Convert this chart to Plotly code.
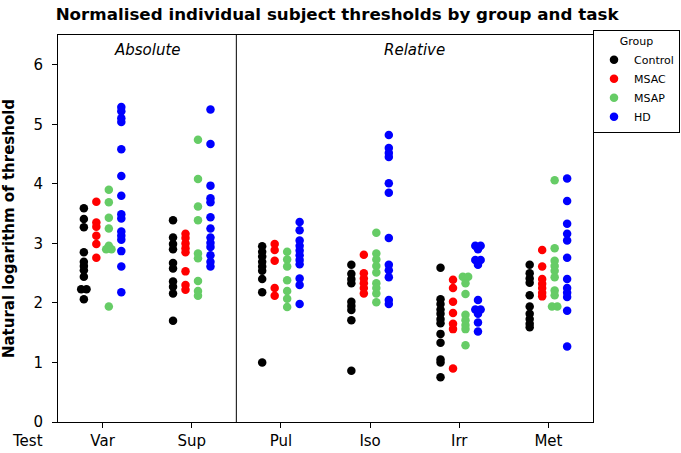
import plotly.graph_objects as go

# -----------------------------
# DATA
# -----------------------------
tests = ["Var", "Sup", "Pul", "Iso", "Irr", "Met"]
groups = ["Control", "MSAC", "MSAP", "HD"]
colors = {"Control": "#000000", "MSAC": "#ff0000", "MSAP": "#66cc66", "HD": "#0000ff"}

control = {
    "Var": [3.59, 3.41, 3.27, 2.85, 2.69, 2.62, 2.55, 2.44, 2.23, 2.23, 2.06],
    "Sup": [3.39, 3.10, 2.99, 2.90, 2.67, 2.58, 2.36, 2.27, 2.16, 1.70],
    "Pul": [2.95, 2.86, 2.78, 2.69, 2.61, 2.54, 2.40, 2.18, 1.00],
    "Iso": [2.64, 2.49, 2.40, 2.33, 2.02, 1.95, 1.88, 1.71, 0.86],
    "Irr": [2.59, 2.06, 1.98, 1.89, 1.82, 1.73, 1.66, 1.48, 1.33, 1.05, 1.00, 0.75],
    "Met": [2.64, 2.50, 2.41, 2.34, 2.13, 1.94, 1.82, 1.73, 1.65, 1.59],
}
msac = {
    "Var": [3.70, 3.35, 3.28, 3.13, 2.99, 2.76],
    "Sup": [3.16, 3.09, 3.00, 2.92, 2.85, 2.53, 2.30, 2.22],
    "Pul": [2.99, 2.89, 2.71, 2.25, 2.12],
    "Iso": [2.81, 2.50, 2.41, 2.33, 2.25, 2.16],
    "Irr": [2.39, 2.25, 2.02, 1.83, 1.65, 1.56, 0.90],
    "Met": [2.89, 2.61, 2.40, 2.32, 2.25, 2.17, 2.11],
}
msap = {
    "Var": [3.90, 3.69, 3.43, 3.25, 2.96, 2.90, 2.90, 1.94],
    "Sup": [4.74, 4.08, 3.62, 3.39, 2.83, 2.75, 2.37, 2.20, 2.12],
    "Pul": [2.86, 2.73, 2.61, 2.38, 2.20, 2.07, 1.93],
    "Iso": [3.18, 2.83, 2.73, 2.62, 2.51, 2.33, 2.25, 2.16, 2.01],
    "Irr": [2.44, 2.44, 2.33, 2.15, 1.80, 1.71, 1.63, 1.56, 1.29],
    "Met": [4.06, 2.92, 2.71, 2.62, 2.54, 2.43, 2.21, 2.13, 1.94, 1.94],
}
hd = {
    "Var": [5.29, 5.22, 5.10, 5.04, 4.58, 4.13, 3.80, 3.49, 3.42, 3.20, 3.13, 3.06, 2.87, 2.61, 2.18],
    "Sup": [5.25, 4.67, 3.97, 3.76, 3.69, 3.44, 3.25, 3.10, 3.01, 2.94, 2.80, 2.69, 2.61],
    "Pul": [3.36, 3.22, 3.05, 2.96, 2.88, 2.80, 2.72, 2.65, 2.41, 2.30, 1.98],
    "Iso": [4.82, 4.60, 4.52, 4.45, 4.01, 3.85, 3.09, 2.64, 2.55, 2.43, 2.05, 1.98],
    "Irr": [2.96, 2.96, 2.90, 2.72, 2.72, 2.64, 2.05, 1.89, 1.89, 1.82, 1.67, 1.52],
    "Met": [4.09, 3.71, 3.33, 3.16, 3.05, 2.76, 2.40, 2.25, 2.17, 2.10, 1.87, 1.27],
}
group_data = {"Control": control, "MSAC": msac, "MSAP": msap, "HD": hd}
offsets = {"Control": -0.21, "MSAC": -0.07, "MSAP": 0.07, "HD": 0.21}

fig = go.Figure()

for g in groups:
    xs, ys = [], []
    for i, t in enumerate(tests):
        vals = group_data[g][t]
        for j, v in enumerate(vals):
            # spread duplicates side by side
            n = vals.count(v)
            k = vals[:j].count(v)
            shift = (k - (n - 1) / 2) * 0.06
            xs.append(i + offsets[g] + shift)
            ys.append(v)
    fig.add_trace(go.Scatter(
        x=xs, y=ys, mode="markers", name=g,
        marker=dict(color=colors[g], size=8.5, line=dict(width=0)),
    ))

# divider between absolute and relative tests
fig.add_shape(type="line", x0=1.5, x1=1.5, y0=0, y1=6.5, xref="x", yref="y",
              line=dict(color="black", width=1))

fig.add_annotation(x=0.5, y=6.25, text="<i>Absolute</i>", showarrow=False,
                   font=dict(size=15, color="black"))
fig.add_annotation(x=3.5, y=6.25, text="<i>Relative</i>", showarrow=False,
                   font=dict(size=15, color="black"))
fig.add_annotation(x=-0.09, y=-0.02, xref="paper", yref="paper", text="Test",
                   showarrow=False, xanchor="left", yanchor="top",
                   font=dict(size=15, color="black"))

fig.update_layout(
    width=681, height=453,
    plot_bgcolor="white", paper_bgcolor="white",
    font=dict(family="DejaVu Sans", size=15, color="black"),
    title=dict(text="<b>Normalised individual subject thresholds by group and task</b>",
               x=0.495, xanchor="center", y=0.982, yanchor="top",
               font=dict(size=16.7)),
    margin=dict(l=58, r=88, t=35, b=31, autoexpand=False),
    xaxis=dict(range=[-0.5, 5.5], tickvals=list(range(len(tests))), ticktext=tests,
               showgrid=False, zeroline=False, showline=True, linecolor="black",
               mirror=True, ticks="outside", ticklen=5, tickcolor="black",
               automargin=False),
    yaxis=dict(range=[0, 6.5], tickvals=[0, 1, 2, 3, 4, 5, 6], showgrid=False,
               zeroline=False, showline=True, linecolor="black", mirror=True,
               ticks="outside", ticklen=5, tickcolor="black", automargin=False,
               ticklabelstandoff=6,
               title=dict(text="<b>Natural logarithm of threshold</b>", standoff=17,
                          font=dict(size=15))),
    legend=dict(x=1.0, y=1.013, xanchor="left", yanchor="top",
                bordercolor="black", borderwidth=1, bgcolor="white",
                title=dict(text="Group", side="top center", font=dict(size=11)),
                font=dict(size=11), itemwidth=30, tracegroupgap=0),
    showlegend=True,
)

fig.write_html("out.html", config={"displayModeBar": False},
               post_script="document.body.style.margin='0';")
